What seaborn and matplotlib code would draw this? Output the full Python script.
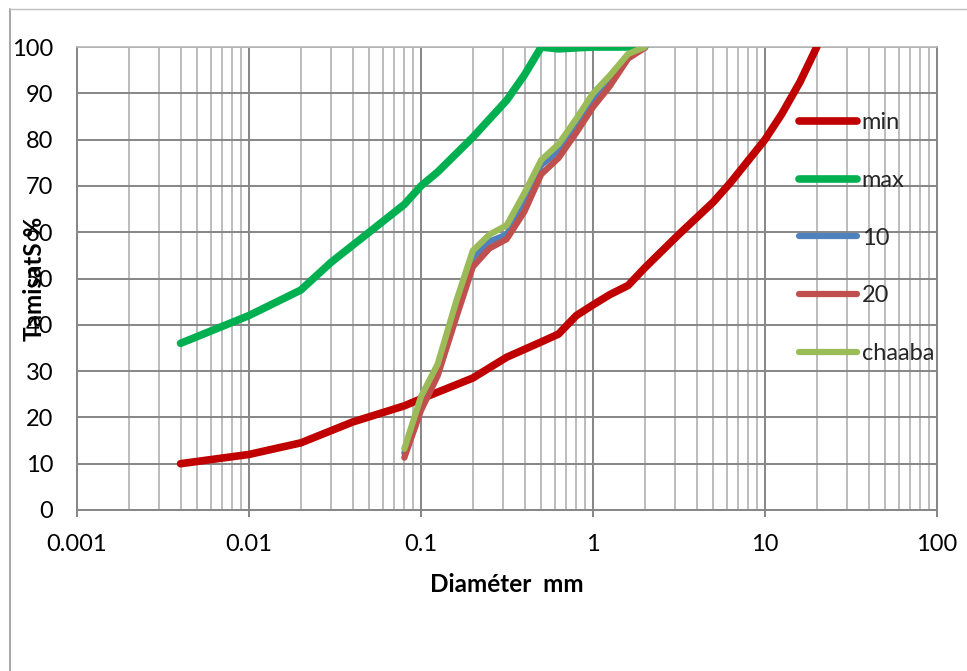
import matplotlib
matplotlib.use("Agg")
import matplotlib.pyplot as plt
from matplotlib.lines import Line2D
from matplotlib.ticker import LogLocator, FixedLocator, FuncFormatter, NullFormatter
import seaborn as sns
import pandas as pd

# ---- data ----
min_x = [0.004, 0.01, 0.02, 0.04, 0.08, 0.1, 0.2, 0.315, 0.5, 0.63, 0.8, 1.0, 1.25, 1.6, 2.0, 3.15, 5.0, 6.3, 10.0, 12.5, 16.0, 20.0]
min_y = [10, 12, 14.5, 19, 22.5, 24, 28.5, 33, 36.3, 38, 42, 44.3, 46.5, 48.5, 52.3, 59.5, 66.5, 70.7, 80, 85.5, 92.5, 100]

max_x = [0.004, 0.01, 0.02, 0.03, 0.05, 0.08, 0.1, 0.125, 0.2, 0.315, 0.4, 0.5, 0.63, 1.0, 2.0]
max_y = [36, 42, 47.5, 53.5, 60, 66, 70, 73, 80.5, 88.5, 94, 100, 99.6, 100, 100]

sieve_x = [0.08, 0.1, 0.125, 0.16, 0.2, 0.25, 0.315, 0.4, 0.5, 0.63, 0.8, 1.0, 1.25, 1.6, 2.0]
s10_y = [12.3, 23, 30.5, 43.5, 54.5, 58, 59.5, 66.5, 74.5, 77.5, 83, 88.5, 92.5, 98, 100]
s20_y = [11.3, 21.5, 29, 41.5, 52.5, 56.5, 58.5, 64.5, 72.5, 76, 81.5, 87, 91.5, 97.5, 99.8]
chaaba_y = [13.2, 24.5, 31.5, 45, 56, 59.5, 61.5, 68.5, 75.6, 79, 84.5, 90, 93.8, 98.5, 100]

series_names = ["min", "max", "10", "20", "chaaba"]
colors = ["#C00000", "#00B050", "#4F81BD", "#C0504D", "#9BBB59"]
y_ticks = [0, 10, 20, 30, 40, 50, 60, 70, 80, 90, 100]
x_ticks = [0.001, 0.01, 0.1, 1, 10, 100]

# ---- style ----
sns.set_theme(style="white")
plt.rcParams["font.family"] = ["Lato", "DejaVu Sans"]

fig = plt.figure(figsize=(9.67, 6.71), dpi=100)
ax = fig.add_axes([77 / 967, 1 - 510 / 671, 860 / 967, 463 / 671])

data = [
    (min_x, min_y, 5.5),
    (max_x, max_y, 5.5),
    (sieve_x, s10_y, 4.5),
    (sieve_x, s20_y, 4.5),
    (sieve_x, chaaba_y, 4.5),
]
for (xs, ys, lw), name, col in zip(data, series_names, colors):
    df = pd.DataFrame({"x": xs, "y": ys})
    sns.lineplot(data=df, x="x", y="y", ax=ax, color=col, linewidth=lw,
                 label=name, sort=False, estimator=None, zorder=3)
for line in ax.get_lines():
    line.set_solid_capstyle("round")
    line.set_solid_joinstyle("round")

ax.set_xscale("log")
ax.set_xlim(0.001, 100)
ax.set_ylim(0, 100)
ax.xaxis.set_major_locator(FixedLocator(x_ticks))
ax.xaxis.set_major_formatter(FuncFormatter(lambda v, p: "%g" % v))
ax.xaxis.set_minor_locator(LogLocator(base=10, subs=range(2, 10), numticks=20))
ax.xaxis.set_minor_formatter(NullFormatter())
ax.yaxis.set_major_locator(FixedLocator(y_ticks))

major_c = "#868686"
minor_c = "#B0B0B0"
ax.grid(True, which="major", axis="both", color=major_c, lw=1.4, zorder=0)
ax.grid(True, which="minor", axis="x", color=minor_c, lw=1.2, zorder=0)
ax.set_axisbelow(True)

for s in ["left", "bottom", "right"]:
    ax.spines[s].set_color(major_c)
    ax.spines[s].set_linewidth(1.4)
ax.spines["top"].set_color("#BBBBBB")
ax.spines["top"].set_linewidth(1.2)

ax.tick_params(axis="x", which="major", direction="out", length=5, width=1.4,
               color=major_c, pad=12, labelsize=17, labelcolor="black", bottom=True)
ax.tick_params(axis="x", which="minor", length=0)
ax.tick_params(axis="y", which="major", length=0, pad=17, labelsize=17, labelcolor="black")

ax.set_xlabel("Diaméter  mm", fontsize=17.5, fontweight="bold", color="black")
ax.set_ylabel("TamisatS %", fontsize=17.5, fontweight="bold", color="black")
ax.xaxis.label.set_va("center")
ax.yaxis.label.set_va("center")
ax.xaxis.set_label_coords(0.5, (510 - 585) / 463)
ax.yaxis.set_label_coords((34 - 77) / 860, 0.5)

leg = ax.legend(loc="upper left", bbox_to_anchor=((799 - 77) / 860, (510 - 112) / 463),
                frameon=False, fontsize=17, handlelength=2.45, handletextpad=0.2,
                labelspacing=1.56, borderpad=0, borderaxespad=0)
for h in leg.get_lines():
    h.set_solid_capstyle("round")

# outer chart border (left and top visible)
fig.add_artist(Line2D([10 / 967, 10 / 967], [0, 1 - 9 / 671], transform=fig.transFigure,
                      color="#A6A6A6", lw=1.4))
fig.add_artist(Line2D([10 / 967, 1], [1 - 9 / 671, 1 - 9 / 671], transform=fig.transFigure,
                      color="#BEBEBE", lw=1.0))

fig.savefig("out.png", dpi=100)
